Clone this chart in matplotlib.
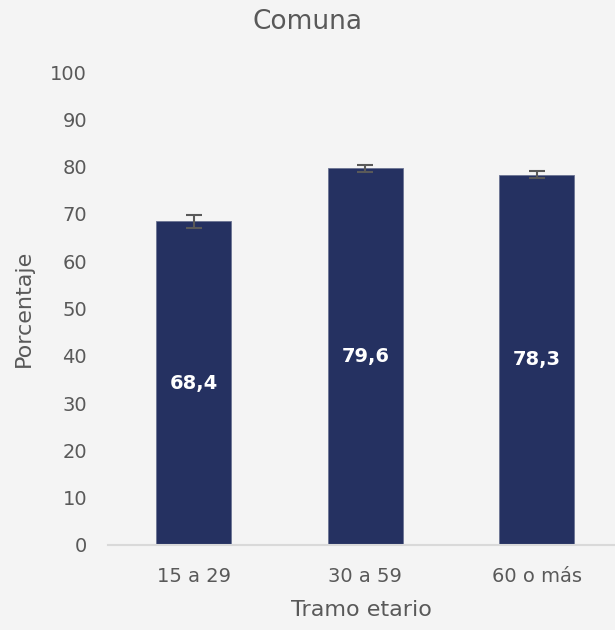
import matplotlib
matplotlib.use("Agg")
import matplotlib.pyplot as plt

categories = ["15 a 29", "30 a 59", "60 o más"]
values = [68.4, 79.6, 78.3]
errors = [1.3, 0.7, 0.8]
labels = ["68,4", "79,6", "78,3"]
yticks = [0, 10, 20, 30, 40, 50, 60, 70, 80, 90, 100]

bg = "#f4f4f4"
bar_color = "#253161"
text_color = "#595959"

plt.rcParams['font.family'] = ['DejaVu Sans']

fig = plt.figure(figsize=(6.15, 6.3), dpi=100, facecolor=bg)
ax = fig.add_axes([108/615, 1 - 545/630, 1 - 108/615, (545 - 72)/630])
ax.set_facecolor(bg)

x = list(range(len(categories)))
ax.bar(x, values, width=0.437, color=bar_color, edgecolor="#6b7393", linewidth=0.6, zorder=2)
ax.errorbar(x, values, yerr=errors, fmt="none", ecolor="#595959", elinewidth=1.5,
            capsize=6, capthick=1.5, zorder=3)

for xi, v, lab in zip(x, values, labels):
    ax.text(xi, v / 2, lab, ha="center", va="center", color="white",
            fontsize=14, fontweight="bold", zorder=4)

ax.set_xlim(-0.5, 2.456)
ax.set_ylim(0, 100)
ax.set_yticks(yticks)
ax.set_yticklabels([str(t) for t in yticks], fontsize=14, color=text_color)
ax.set_xticks(x)
ax.set_xticklabels(categories, fontsize=14, color=text_color)
ax.tick_params(axis="x", length=0, pad=16)
ax.tick_params(axis="y", length=0, pad=15)

for s in ["top", "right", "left"]:
    ax.spines[s].set_visible(False)
ax.spines["bottom"].set_color("#d9d9d9")
ax.spines["bottom"].set_linewidth(1.5)

ax.set_ylabel("Porcentaje", fontsize=16, color=text_color, labelpad=12)
ax.set_xlabel("Tramo etario", fontsize=16, color=text_color, labelpad=10)
fig.text(0.5, 1 - 22/630, "Comuna", ha="center", va="center", fontsize=19, color=text_color)

fig.savefig("out.png", dpi=100, facecolor=bg)
